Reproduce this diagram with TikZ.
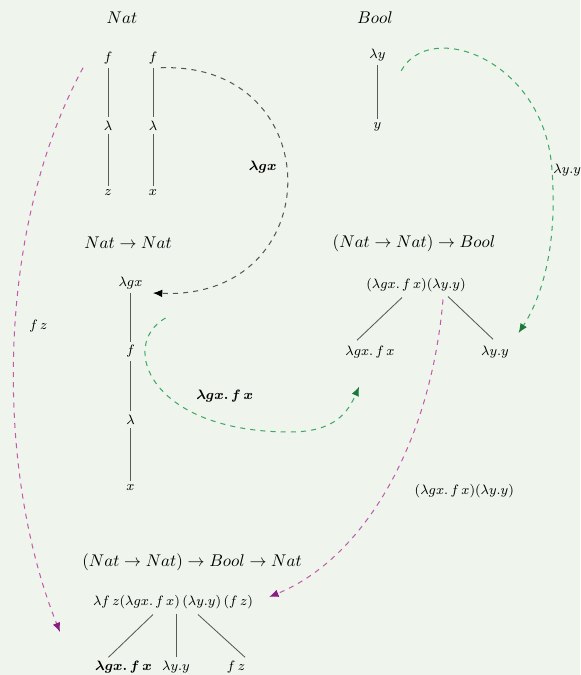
\documentclass[tikz,border=0pt]{standalone}
\usepackage{amsmath}
\usetikzlibrary{arrows.meta, positioning, calc}
\definecolor{pagebg}{HTML}{EFF4ED}
\definecolor{inkline}{HTML}{5A5A5A}
\definecolor{inkdash}{HTML}{555555}
\definecolor{redgreen}{HTML}{3DA862}
\definecolor{redgreendark}{HTML}{1B7A3A}
\definecolor{redpink}{HTML}{C25AAC}
\definecolor{redpinkdark}{HTML}{8A1C86}

\begin{document}
\begin{tikzpicture}[x=0.59pt, y=-0.59pt, font=\footnotesize,
  typ/.style={font=\normalsize},
  term/.style={font=\footnotesize, inner sep=2pt, text=black},
  bterm/.style={font=\footnotesize\boldmath, inner sep=2pt, text=black},
  edge/.style={inkline, line width=0.5pt},
  redex/.style={dashed, line width=0.6pt},
  tipblack/.style={-{Latex[length=5.5pt, width=4.5pt, color=black]}},
  tipgreen/.style={-{Latex[length=5.5pt, width=4.5pt, color=redgreendark]}},
  tippink/.style={-{Latex[length=5.5pt, width=4.5pt, color=redpinkdark]}}]
  \fill[pagebg] (0,0) rectangle (580,675);
  \useasboundingbox (0,0) rectangle (580,675);

  % types
  \node[typ] (tnat) at (122,18) {$Nat$};
  \node[typ] (tbool) at (375,18) {$Bool$};
  \node[typ] (tnn) at (128,243) {$Nat \to Nat$};
  \node[typ] (tnnb) at (414,243) {$(Nat \to Nat) \to Bool$};
  \node[typ] (tnnbn) at (192,562) {$(Nat \to Nat) \to Bool \to Nat$};

  % Nat
  \foreach \lab [count=\i from 0] in {f, \lambda, z}{%
    \node[term] (za\i) at (108,58+67.5*\i) {$\lab$};}
  \foreach \lab [count=\i from 0] in {f, \lambda, x}{%
    \node[term] (xa\i) at (153,58+67.5*\i) {$\lab$};}
  \foreach \i/\j in {0/1, 1/2}{%
    \draw[edge] (za\i) -- (za\j);
    \draw[edge] (xa\i) -- (xa\j);}

  % Bool
  \node[term] (ly) at (377.5,55) {$\lambda y$};
  \node[term] (ly1) at (377.5,127) {$y$};
  \draw[edge] (ly) -- (ly1);

  % Nat -> Nat
  \foreach \lab [count=\i from 0] in {\lambda gx, f, \lambda, x}{%
    \node[term] (gx\i) at (130.5,283+68.3*\i) {$\lab$};}
  \foreach \i/\j in {0/1, 1/2, 2/3}{%
    \draw[edge] (gx\i) -- (gx\j);}

  % (Nat -> Nat) -> Bool
  \node[term] (app) at (416,285) {$(\lambda gx.\,f\,x)(\lambda y.y)$};
  \node[term] (appl) at (370,352) {$\lambda gx.\,f\,x$};
  \node[term] (appr) at (495,352) {$\lambda y.y$};
  \draw[edge] ([shift={(-14,2)}]app.south) -- ([shift={(-13,-2)}]appl.north);
  \draw[edge] ([shift={(32,1)}]app.south) -- ([shift={(-2,-3)}]appr.north);

  % (Nat -> Nat) -> Bool -> Nat
  \node[term] (bot) at (173,602)
    {$\lambda f\,z(\lambda gx.\,f\,x)\,(\lambda y.y)\,(f\,z)$};
  \node[bterm] (botl) at (123.5,667) {$\lambda gx.\,f\,x$};
  \node[term] (botm) at (176,667) {$\lambda y.y$};
  \node[term] (botr) at (236,667) {$f\,z$};
  \draw[edge] ([shift={(-20,2)}]bot.south) -- ([shift={(-15,0)}]botl.north);
  \draw[edge] ([shift={(3,1)}]bot.south) -- (botm.north);
  \draw[edge] ([shift={(25,2)}]bot.south) -- ([shift={(9,0)}]botr.north);

  % loose ends of the reductions
  \coordinate (gsrc) at ([shift={(35,35)}]gx0.center);
  \coordinate (ysrc) at ([shift={(12,6)}]ly.south east);
  \coordinate (zsrc) at ([shift={(-17,0)}]za0.south west);
  \coordinate (zdst) at (60,632);
  \coordinate (asrc) at ([shift={(27,4)}]app.south);

  % reductions
  \draw[redex, inkdash, tipblack, shorten >=4pt] (xa0.south east)
    .. controls (330,62) and (330,300) ..
    node[pos=0.46, left=3pt, bterm] {$\lambda gx$} (gx0.south east);
  \draw[redex, redgreen, tipgreen, shorten >=16pt] (gsrc)
    .. controls (118,345) and (150,432) ..
    node[pos=0.7, above right, bterm, yshift=4pt] {$\lambda gx.\,f\,x$} (290,432)
    .. controls (335,432) and (348,412) .. (appl.south);
  \draw[redex, redgreen, tipgreen, shorten >=6.5pt] (ysrc)
    .. controls (430,18) and (545,60) ..
    node[pos=1, right, term, inner sep=0.5pt] {$\lambda y.y$} (552,170)
    .. controls (558,250) and (540,300) .. (appr.north east);
  \draw[redex, redpink, tippink] (zsrc)
    .. controls (-5,230) and (-5,470) ..
    node[pos=0.46, right=6pt, term] {$f\,z$} (zdst);
  \draw[redex, redpink, tippink, shorten >=8pt] (asrc)
    .. controls (430,450) and (360,560) ..
    node[pos=0.5, right=16pt, term] {$(\lambda gx.\,f\,x)(\lambda y.y)$} (bot.east);
\end{tikzpicture}
\end{document}
